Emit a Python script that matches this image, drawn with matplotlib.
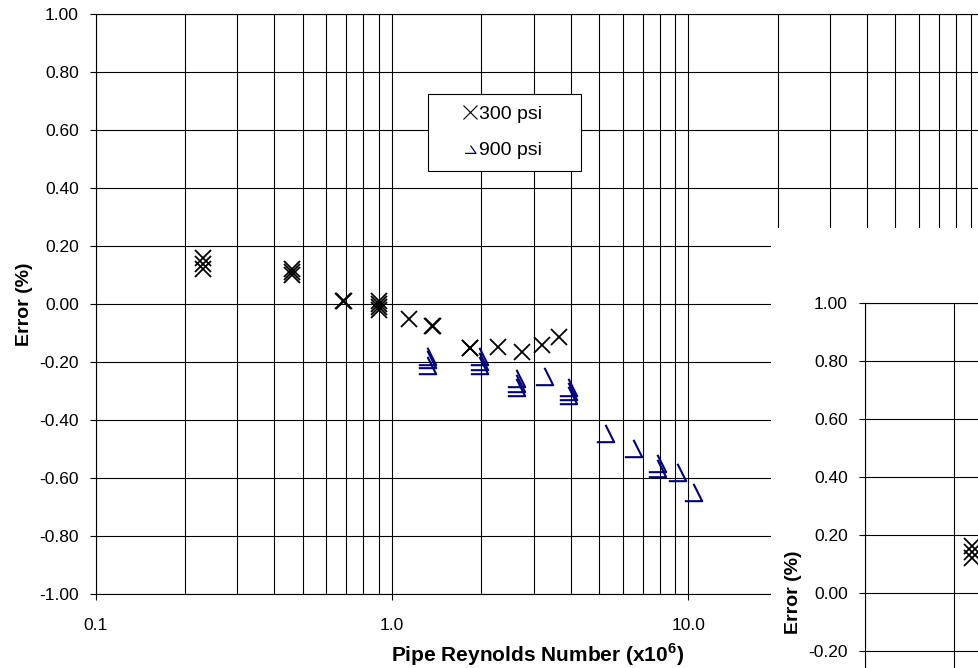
import matplotlib
matplotlib.use('Agg')
import matplotlib.pyplot as plt
from matplotlib.path import Path
from matplotlib.lines import Line2D
from matplotlib.patches import Rectangle
from matplotlib.ticker import FixedLocator, FixedFormatter, NullFormatter

plt.rcParams['font.family'] = ['Liberation Sans', 'DejaVu Sans']
plt.rcParams['mathtext.fontset'] = 'custom'
plt.rcParams['mathtext.rm'] = 'Liberation Sans'
plt.rcParams['mathtext.bf'] = 'Liberation Sans:bold'

# Pipe Reynolds number (x10^6) and meter error (%) -- 300 psi runs
re_300 = [0.230, 0.230, 0.230, 0.458, 0.458, 0.458, 0.682, 0.686,
          0.905, 0.905, 0.905, 0.905, 1.142, 1.362, 1.370, 1.826, 1.836,
          2.28, 2.735, 3.197, 3.666]
err_300 = [0.16, 0.14, 0.12, 0.12, 0.11, 0.10, 0.01, 0.01,
           0.01, 0.00, -0.01, -0.02, -0.05, -0.075, -0.075, -0.15, -0.15,
           -0.146, -0.163, -0.14, -0.114]

# 900 psi runs
re_900 = [1.307, 1.307, 1.307, 1.962, 1.962, 1.962, 2.612, 2.612, 2.612,
          3.263, 3.91, 3.91, 3.91, 5.23, 6.52, 7.82, 7.82, 9.13, 10.39]
err_900 = [-0.18, -0.19, -0.21, -0.18, -0.195, -0.21, -0.255, -0.27, -0.285,
           -0.247, -0.285, -0.30, -0.313, -0.443, -0.494, -0.546, -0.563,
           -0.577, -0.646]

series_labels = ['300 psi', '900 psi']
x_ticks = [0.1, 1.0, 10.0, 100.0]
x_tick_labels = ['0.1', '1.0', '10.0', '100.0']
y_ticks = [-1.0, -0.8, -0.6, -0.4, -0.2, 0.0, 0.2, 0.4, 0.6, 0.8, 1.0]
y_tick_labels = [f'{v:.2f}' for v in y_ticks]
x_minor = [m * d for d in (0.1, 1.0, 10.0) for m in range(2, 10)]

NAVY = '#000080'
# open triangle: base and right-hand side only
tri_marker = Path([(-1, -1), (1, -1), (0, 1)],
                  [Path.MOVETO, Path.LINETO, Path.LINETO])
tri_legend = Path([(-1, -0.7), (1, -0.7), (0, 0.7)],
                  [Path.MOVETO, Path.LINETO, Path.LINETO])

W, H = 979, 668
fig = plt.figure(figsize=(W / 100, H / 100), dpi=100)


def px_axes(left, top, right, bottom):
    return [left / W, (H - bottom) / H, (right - left) / W, (bottom - top) / H]


def draw_panel(ax):
    ax.set_xscale('log')
    ax.set_xlim(0.1, 100)
    ax.set_ylim(-1, 1)
    ax.xaxis.set_major_locator(FixedLocator(x_ticks))
    ax.xaxis.set_major_formatter(FixedFormatter(x_tick_labels))
    ax.xaxis.set_minor_locator(FixedLocator(x_minor))
    ax.xaxis.set_minor_formatter(NullFormatter())
    ax.yaxis.set_major_locator(FixedLocator(y_ticks))
    ax.yaxis.set_major_formatter(FixedFormatter(y_tick_labels))

    ax.grid(which='major', color='black', lw=0.8)
    ax.grid(which='minor', axis='x', color='black', lw=0.8)
    ax.set_axisbelow(True)
    for s in ax.spines.values():
        s.set_color('black')
        s.set_linewidth(0.8)

    ax.tick_params(axis='both', which='major', direction='out', length=4.3,
                   width=0.8, color='black', labelsize=12.5)
    ax.tick_params(axis='x', which='major', pad=12.5)
    ax.tick_params(axis='y', which='major', pad=8)
    ax.tick_params(axis='x', which='minor', length=0)

    ax.plot(re_300, err_300, ls='none', marker='x', ms=12, mew=1.3,
            color='black', zorder=3)
    ax.plot(re_900, err_900, ls='none', marker=tri_marker, ms=12.5, mew=1.5,
            mec=NAVY, mfc='none', zorder=3)

    ax.set_xlabel('Pipe Reynolds Number (x10$^{\\mathbf{6}}$)',
                  fontsize=15, fontweight='bold', va='top')
    ax.xaxis.set_label_coords(0.4969, -0.082)
    ax.set_ylabel('Error (%)', fontsize=14, fontweight='bold')
    ax.yaxis.set_label_coords(-0.071, 0.5)

    handles = [
        Line2D([], [], ls='none', marker='x', ms=9.5, mew=0.8, color='black'),
        Line2D([], [], ls='none', marker=tri_legend, ms=8, mew=0.9,
               mec=NAVY, mfc='none'),
    ]
    leg = ax.legend(handles, series_labels, loc='upper left',
                    bbox_to_anchor=(0.3736, 0.7316, 0.1722, 0.131),
                    mode='expand', borderaxespad=0, fontsize=14,
                    fancybox=False, edgecolor='black', framealpha=1,
                    borderpad=0.6, handlelength=3.1, handletextpad=-1.1,
                    labelspacing=0.95)
    leg.get_frame().set_linewidth(0.8)


# main chart (right edge runs past the canvas)
ax_main = fig.add_axes(px_axes(96, 14.3, 984.6, 594.3))
draw_panel(ax_main)

# white sheet carrying a second copy of the chart, lower right
sheet = Rectangle((771 / W, 0), 1, (H - 228) / H, transform=fig.transFigure,
                  facecolor='white', edgecolor='none', zorder=1)
fig.add_artist(sheet)

ax_copy = fig.add_axes(px_axes(96 + 769, 14.3 + 288.4, 984.6 + 769, 594.3 + 288.4))
ax_copy.set_zorder(2)
draw_panel(ax_copy)

fig.savefig('out.png', dpi=100)
